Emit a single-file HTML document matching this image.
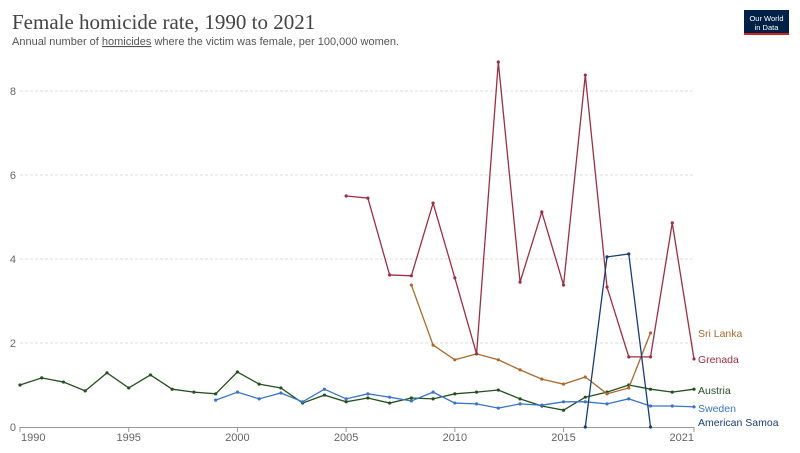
<!DOCTYPE html>
<html><head><meta charset="utf-8"><style>
body{margin:0;width:800px;height:448px;background:#fff;overflow:hidden;font-family:"Liberation Sans",sans-serif;}
</style></head><body>
<svg width="800" height="448" xmlns="http://www.w3.org/2000/svg">
<text x="12" y="29" font-family="Liberation Serif,serif" font-size="21" fill="#444">Female homicide rate, 1990 to 2021</text>
<text x="12" y="45" font-size="11" fill="#555">Annual number of <tspan text-decoration="underline">homicides</tspan> where the victim was female, per 100,000 women.</text>
<g>
<rect x="744" y="10" width="45" height="25" fill="#002147"/>
<rect x="744" y="33" width="45" height="2" fill="#ce261e"/>
<text x="766.5" y="21" font-size="7.5" fill="#fff" text-anchor="middle">Our World</text>
<text x="766.5" y="30" font-size="7.5" fill="#fff" text-anchor="middle">in Data</text>
</g>
<g id="grid"></g><g id="axes"></g><g id="series"></g><g id="labels"></g>
</svg>
<script>
const years=[1990,1991,1992,1993,1994,1995,1996,1997,1998,1999,2000,2001,2002,2003,2004,2005,2006,2007,2008,2009,2010,2011,2012,2013,2014,2015,2016,2017,2018,2019,2020,2021];
const austria=[1.0,1.17,1.07,0.86,1.29,0.93,1.24,0.9,0.83,0.79,1.31,1.02,0.93,0.57,0.76,0.6,0.69,0.57,0.69,0.67,0.79,0.83,0.88,0.67,0.5,0.4,0.71,0.83,1.0,0.9,0.83,0.9];
const swedenYears=[1999,2000,2001,2002,2003,2004,2005,2006,2007,2008,2009,2010,2011,2012,2013,2014,2015,2016,2017,2018,2019,2020,2021];
const sweden=[0.64,0.83,0.67,0.81,0.6,0.9,0.67,0.79,0.71,0.62,0.83,0.57,0.55,0.45,0.55,0.52,0.6,0.6,0.55,0.67,0.5,0.5,0.48];
const grenadaYears=[2005,2006,2007,2008,2009,2010,2011,2012,2013,2014,2015,2016,2017,2018,2019,2020,2021];
const grenada=[5.5,5.45,3.62,3.6,5.33,3.55,1.74,8.69,3.45,5.12,3.38,8.38,3.33,1.67,1.67,4.86,1.62];
const sriLankaYears=[2008,2009,2010,2011,2012,2013,2014,2015,2016,2017,2018,2019];
const sriLanka=[3.38,1.95,1.6,1.74,1.6,1.36,1.14,1.02,1.19,0.79,0.93,2.24];
const samoaYears=[2016,2017,2018,2019];
const samoa=[0,4.05,4.12,0];
const yTicks=[0,2,4,6,8];
const xTicks=[1990,1995,2000,2005,2010,2015,2021];
const x=y=>20+(y-1990)*(674/31);
const yS=v=>427-v*42;
const NS="http://www.w3.org/2000/svg";
function mk(t,a,p){const e=document.createElementNS(NS,t);for(const k in a)e.setAttribute(k,a[k]);p.appendChild(e);return e;}
const grid=document.getElementById('grid'),axes=document.getElementById('axes'),ser=document.getElementById('series'),lab=document.getElementById('labels');
yTicks.forEach(t=>{
 if(t>0){const l=mk('line',{x1:20,x2:694,y1:yS(t),y2:yS(t),stroke:'#ddd','stroke-dasharray':'3,2'},grid);
 
 }
 const tx=mk('text',{x:16,y:yS(t)+4,'font-size':11,fill:'#666','text-anchor':'end'},axes);tx.textContent=t;
 
 
});
const ax=mk('line',{x1:20,x2:694,y1:427.5,y2:427.5,stroke:'#999'},axes);


xTicks.forEach((t,i)=>{
 mk('line',{x1:x(t),x2:x(t),y1:427,y2:432,stroke:'#999'},axes);
 const anchor=i==0?'start':(i==xTicks.length-1?'end':'middle');
 const tx=mk('text',{x:i==0?x(t)+1:x(t),y:441,'font-size':11,fill:'#666','text-anchor':anchor},axes);tx.textContent=t;
 
 
});
function draw(ys,vs,color,name,label,ly){
 const g=mk('g',{},ser);
 
 
 mk('polyline',{points:ys.map((y,i)=>x(y)+','+yS(vs[i])).join(' '),fill:'none',stroke:color,'stroke-width':1.3},g);
 ys.forEach((y,i)=>mk('circle',{cx:x(y),cy:yS(vs[i]),r:1.6,fill:color},g));
 const t=mk('text',{x:698,y:ly,'font-size':10.5,fill:color},lab);t.textContent=label;
 
 
}
draw(years,austria,'#24501f','austria','Austria',394);
draw(swedenYears,sweden,'#3a75c4','sweden','Sweden',412);
draw(sriLankaYears,sriLanka,'#a86a2f','sri-lanka','Sri Lanka',337);
draw(grenadaYears,grenada,'#9a3043','grenada','Grenada',363);
draw(samoaYears,samoa,'#183d75','american-samoa','American Samoa',426);
</script>
</body></html>
